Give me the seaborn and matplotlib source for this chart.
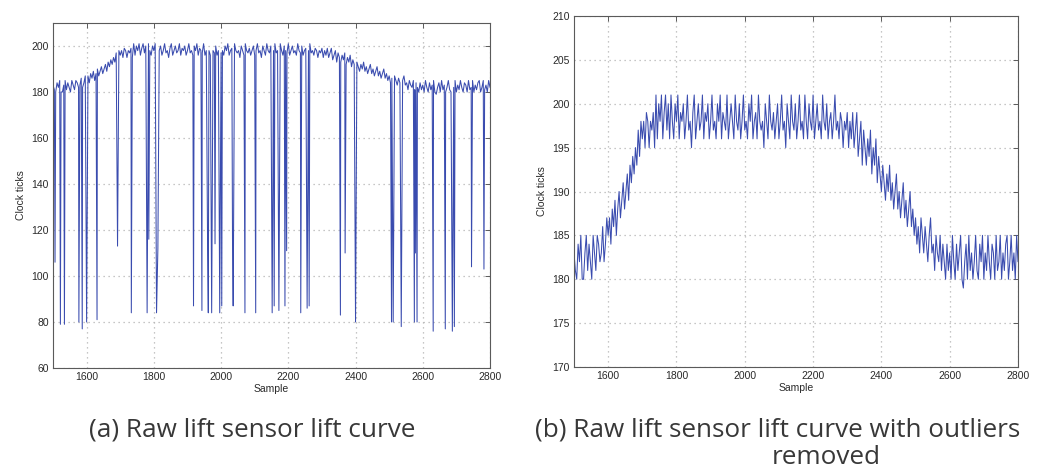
import numpy as np
import pandas as pd
import matplotlib
matplotlib.use("Agg")
import matplotlib.pyplot as plt
import seaborn as sns

# Lift sensor readings (clock ticks), one value every 4 samples from 1500 to 2800
SAMPLES = list(range(1500, 2801, 4))
CLEAN_TICKS = [
    # 1500 - 1596
    183, 181, 180, 184, 182, 185, 180, 180, 183, 185, 181, 184, 182,
    180, 185, 183, 181, 185, 184, 182, 183, 186, 182, 184, 187,
    # 1600 - 1696
    185, 187, 184, 188, 186, 189, 185, 188, 190, 187, 189, 191, 188,
    190, 192, 189, 193, 191, 194, 192, 195, 193, 197, 194, 198,
    # 1700 - 1796
    196, 198, 195, 199, 198, 195, 198, 197, 199, 195, 201, 196, 200,
    198, 201, 196, 199, 201, 197, 200, 196, 201, 198, 196, 200,
    # 1800 - 1896
    198, 201, 196, 199, 198, 200, 196, 198, 201, 197, 198, 195, 199,
    201, 196, 198, 200, 197, 198, 201, 196, 199, 198, 200, 196,
    # 1900 - 1996
    198, 201, 197, 198, 196, 200, 198, 201, 196, 199, 198, 197, 201,
    196, 198, 200, 198, 196, 201, 198, 197, 200, 196, 198, 201,
    # 2000 - 2096
    197, 198, 196, 200, 198, 201, 196, 198, 199, 196, 201, 198, 197,
    198, 195, 200, 198, 196, 201, 198, 197, 199, 196, 198, 200,
    # 2100 - 2196
    196, 198, 201, 197, 198, 195, 200, 198, 196, 201, 198, 197, 200,
    196, 198, 201, 197, 198, 196, 201, 198, 196, 200, 198, 197,
    # 2200 - 2296
    201, 196, 198, 200, 197, 198, 196, 201, 198, 197, 200, 196, 198,
    199, 196, 198, 201, 197, 198, 196, 199, 198, 195, 198, 197,
    # 2300 - 2396
    199, 195, 198, 196, 199, 195, 197, 199, 194, 196, 198, 193, 197,
    195, 193, 196, 194, 197, 192, 195, 193, 196, 191, 194, 192,
    # 2400 - 2496
    190, 193, 191, 189, 192, 190, 193, 189, 191, 188, 190, 192, 188,
    190, 187, 189, 191, 187, 189, 186, 188, 190, 186, 188, 185,
    # 2500 - 2596
    187, 184, 186, 183, 187, 185, 183, 186, 184, 182, 185, 187, 183,
    184, 181, 185, 183, 182, 185, 181, 184, 182, 180, 184, 181,
    # 2600 - 2696
    183, 180, 185, 182, 180, 184, 181, 183, 185, 180, 179, 182, 184,
    180, 185, 181, 183, 180, 182, 185, 181, 180, 184, 182, 185,
    # 2700 - 2800
    180, 183, 181, 185, 182, 180, 184, 183, 180, 185, 181, 182, 185,
    180, 183, 181, 184, 185, 180, 182, 185, 181, 183, 180, 185,
    182,
]

# Single-sample dropouts present in the raw sensor stream
OUTLIER_SAMPLES = [
    1506, 1522, 1534, 1577, 1587, 1600, 1631, 1692, 1733, 1780,
    1785, 1808, 1812, 1918, 1943, 1960, 1962, 1972, 1982, 1996,
    2002, 2034, 2036, 2071, 2103, 2152, 2158, 2172, 2190, 2195,
    2237, 2256, 2262, 2355, 2369, 2400, 2507, 2512, 2536, 2575,
    2578, 2583, 2631, 2667, 2688, 2694, 2745, 2782,
]
OUTLIER_TICKS = [
    106, 79, 79, 80, 77, 80, 81, 113, 84, 84,
    116, 84, 112, 87, 85, 111, 84, 84, 114, 84,
    87, 116, 87, 84, 84, 84, 87, 85, 87, 111,
    84, 86, 87, 83, 110, 80, 80, 80, 78, 80,
    110, 80, 76, 77, 76, 78, 104, 103,
]

X_TICKS = [1600, 1800, 2000, 2200, 2400, 2600, 2800]
X_LIMITS = [1500, 2800]
Y_TICKS_RAW = [60, 80, 100, 120, 140, 160, 180, 200]
Y_LIMITS_RAW = [60, 210]
Y_TICKS_CLEAN = [170, 175, 180, 185, 190, 195, 200, 205, 210]
Y_LIMITS_CLEAN = [170, 210]

CAPTION_A = "(a) Raw lift sensor lift curve"
CAPTION_B = "(b) Raw lift sensor lift curve with outliers"
CAPTION_B_CONT = "removed"

clean = pd.DataFrame({"Sample": SAMPLES, "Clock ticks": CLEAN_TICKS})
dropouts = pd.DataFrame({"Sample": OUTLIER_SAMPLES, "Clock ticks": OUTLIER_TICKS})
raw = (pd.concat([clean[~clean["Sample"].isin(dropouts["Sample"])], dropouts])
       .sort_values("Sample").reset_index(drop=True))

sns.set_theme(style="white")
plt.rcParams["font.family"] = ["Liberation Sans", "DejaVu Sans"]

LINE = "#3a4caf"
FRAME = "#5a5a5a"
GRID = "#b4b4b4"
TEXT = "#2a2a2a"

fig = plt.figure(figsize=(10.37, 4.71), dpi=100)
ax_a = fig.add_axes([53 / 1037, 1 - 368 / 471, 437 / 1037, 345 / 471])
ax_b = fig.add_axes([574 / 1037, 1 - 367 / 471, 444 / 1037, 351 / 471])


def style_axes(ax, yticks, ylim):
    ax.set_xlim(*X_LIMITS)
    ax.set_ylim(*ylim)
    ax.set_xticks(X_TICKS)
    ax.set_yticks(yticks)
    ax.grid(True, color=GRID, linestyle=(0, (1, 3)), linewidth=0.9)
    ax.set_axisbelow(True)
    for sp in ax.spines.values():
        sp.set_color(FRAME)
        sp.set_linewidth(0.8)
        sp.set_visible(True)
    ax.tick_params(direction="in", length=3.5, width=0.7, color=FRAME,
                   top=True, right=True, labelsize=7.5, labelcolor=TEXT, pad=3)
    ax.set_xlabel("Sample", fontsize=7.5, color=TEXT, labelpad=1.5)
    ax.set_ylabel("Clock ticks", fontsize=7.5, color=TEXT, labelpad=4)


sns.lineplot(data=raw, x="Sample", y="Clock ticks", ax=ax_a, estimator=None,
             sort=True, color=LINE, linewidth=0.75)
style_axes(ax_a, Y_TICKS_RAW, Y_LIMITS_RAW)

sns.lineplot(data=clean, x="Sample", y="Clock ticks", ax=ax_b, estimator=None,
             sort=True, color=LINE, linewidth=0.75)
style_axes(ax_b, Y_TICKS_CLEAN, Y_LIMITS_CLEAN)

cap_kw = dict(fontsize=18.8, color="#383838", family=["Open Sans", "DejaVu Sans"],
              ha="center", va="center")
fig.text(252 / 1037, 1 - 430 / 471, CAPTION_A, **cap_kw)
fig.text(778 / 1037, 1 - 430 / 471, CAPTION_B, **cap_kw)
fig.text(826 / 1037, 1 - 458 / 471, CAPTION_B_CONT, **cap_kw)

fig.savefig("out.png", dpi=100)
